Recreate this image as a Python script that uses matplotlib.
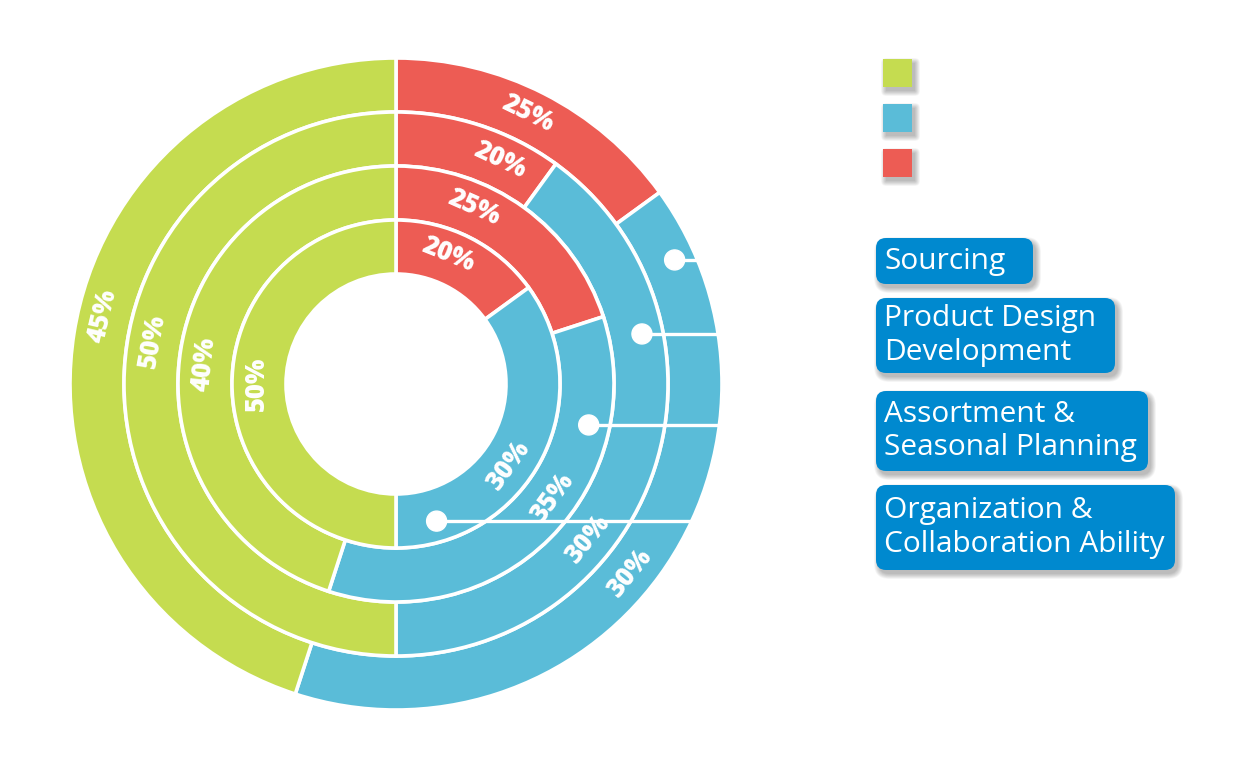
import matplotlib.pyplot as plt
import numpy as np
from matplotlib.patches import FancyBboxPatch, Rectangle, Circle

plt.rcParams['font.family'] = ['Open Sans', 'DejaVu Sans']

# segment colours: red, blue, green
colors = ['#ed5c54', '#5abcd8', '#c5dc50']

# shares of each ring as drawn (percent, clockwise from 12 o'clock), outer ring first
ring1_values = [15, 40, 45]
ring2_values = [10, 40, 50]
ring3_values = [20, 35, 45]
ring4_values = [15, 35, 50]

# the percentages printed on the rings
ring1_labels = ['25%', '30%', '45%']
ring2_labels = ['20%', '30%', '50%']
ring3_labels = ['25%', '35%', '40%']
ring4_labels = ['20%', '30%', '50%']

box_labels = ['Sourcing', 'Product Design\nDevelopment',
              'Assortment &\nSeasonal Planning', 'Organization &\nCollaboration Ability']

W, H = 1239, 768
fig = plt.figure(figsize=(W / 100, H / 100), dpi=100)
ax = fig.add_axes([0, 0, 1, 1])

def py(y):
    # picture rows run downwards, data y runs upwards
    return H - y

cx, cy = 396, py(384)
outer_r = 326
ring_w = 54

rings = [ring1_values, ring2_values, ring3_values, ring4_values]
labels = [ring1_labels, ring2_labels, ring3_labels, ring4_labels]

# where the labels sit on each ring (degrees clockwise from top), red / blue / green
label_angles = [[26, 129, 283], [25, 129, 280], [24, 126, 276], [22, 126, 270]]
# connector dots, one per ring, in the blue segment
dot_angles = [66, 78.5, 102, 163.5]

for i, vals in enumerate(rings):
    r = outer_r - i * ring_w
    ax.pie(vals, radius=r, center=(cx, cy), startangle=90, counterclock=False,
           colors=colors, wedgeprops=dict(width=ring_w, edgecolor='white', linewidth=2.6))
    mid = r - ring_w / 2 - 1
    for lab, ang in zip(labels[i], label_angles[i]):
        t = np.radians(ang)
        x, y = cx + (mid + 3) * np.sin(t), cy + (mid + 3) * np.cos(t)
        rot = (-ang) % 360
        if 90 < rot < 270:
            rot -= 180
        ax.text(x, y, lab, color='white', fontsize=18.5, fontweight='heavy',
                rotation=rot, rotation_mode='anchor', ha='center', va='center', zorder=5)
    t = np.radians(dot_angles[i])
    dx, dy = cx + (mid + 7) * np.sin(t), cy + (mid + 7) * np.cos(t)
    x_edge = cx + np.sqrt(outer_r ** 2 - (dy - cy) ** 2)
    ax.plot([dx, x_edge], [dy, dy], color='white', lw=2.4, zorder=4, solid_capstyle='butt')
    ax.add_patch(Circle((dx, dy), 10, color='white', zorder=4))

def shadow(x, y, w, h, rs):
    for k in range(8):
        ax.add_patch(FancyBboxPatch((x + 3 - k * 0.7, y - 4 - k * 0.7), w + k * 1.4, h + k * 1.4,
                                    boxstyle=f'round,pad=0,rounding_size={rs + k * 0.7}',
                                    fc='black', ec='none', alpha=0.035, zorder=1))

# legend swatches (no text in the original)
sq_tops = [59, 104, 149]
for c, top in zip([colors[2], colors[1], colors[0]], sq_tops):
    shadow(883, py(top + 28), 29, 28, 0.1)
    ax.add_patch(Rectangle((883, py(top + 28)), 29, 28, fc=c, ec='none', zorder=2))

# category boxes
box_rows = [(238, 284, 1033), (298, 373, 1115), (391, 471, 1148), (485, 570, 1175)]
for lab, (top, bot, right) in zip(box_labels, box_rows):
    x0, y0, w, h = 876, py(bot), right - 876, bot - top
    shadow(x0, y0, w, h, 10)
    ax.add_patch(FancyBboxPatch((x0, y0), w, h, boxstyle='round,pad=0,rounding_size=10',
                                fc='#0089cf', ec='none', zorder=2))
    ax.text(884, y0 + h / 2, lab, color='white', fontsize=21.5, ha='left', va='center',
            linespacing=1.2, zorder=3)

ax.set_xlim(0, W)
ax.set_ylim(0, H)
ax.set_aspect('equal')
ax.axis('off')

fig.savefig('out.png', dpi=100, facecolor='white')
